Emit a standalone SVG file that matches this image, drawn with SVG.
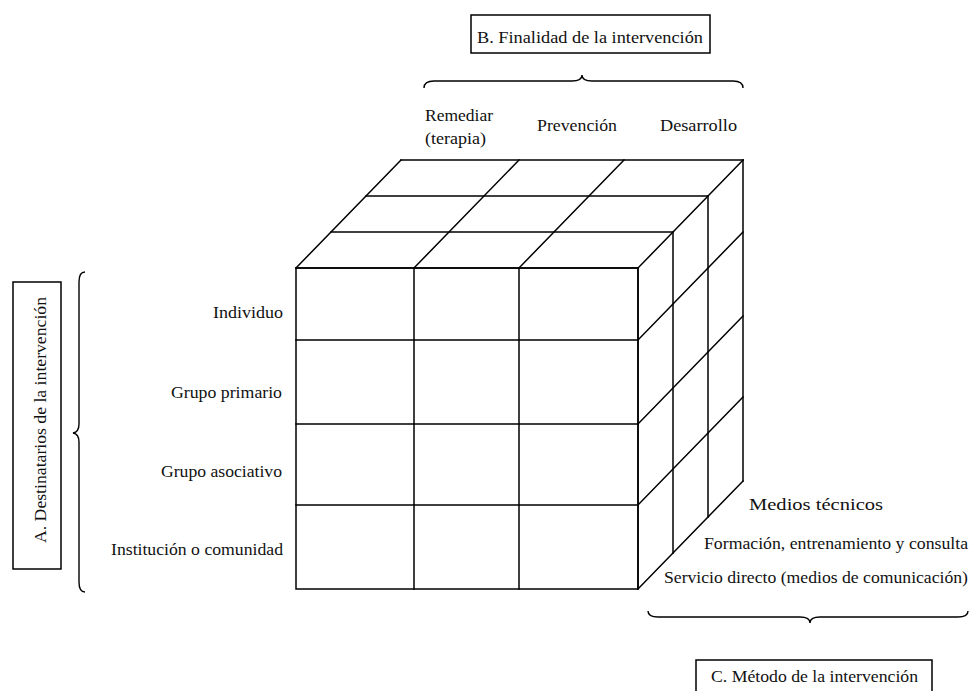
<svg xmlns="http://www.w3.org/2000/svg" width="970" height="691" viewBox="0 0 970 691">
<style>
.ln{stroke:#000;stroke-width:1.5;fill:none;stroke-linecap:square}
.br{stroke:#000;stroke-width:1.4;fill:none}
.bx{stroke:#000;stroke-width:1.5;fill:#fff}
.t{font-family:"Liberation Serif","Times New Roman",serif;font-size:16px;fill:#111}
</style>
<rect width="970" height="691" fill="#fff"/>
<g id="cube">
  <g id="top-face">
    <path class="ln" d="M296,268 H638 M331,232 H673 M366,196 H708 M401,160 H743"/>
    <path class="ln" d="M296,268 L401,160 M414,268 L519,160 M519,268 L624,160 M638,268 L743,160"/>
  </g>
  <g id="right-face">
    <path class="ln" d="M638,268 V589 M673,232 V553 M708,196 V517 M743,160 V481"/>
    <path class="ln" d="M638,340 L743,232 M638,424 L743,316 M638,505 L743,397 M638,589 L743,481"/>
  </g>
  <g id="front-face">
    <rect class="ln" x="296" y="268" width="342" height="321"/>
    <path class="ln" d="M414,268 V589 M519,268 V589 M296,340 H638 M296,424 H638 M296,505 H638"/>
  </g>
</g>
<g id="axis-B">
  <rect class="bx" x="471" y="15" width="239" height="38"/>
  <text class="t" x="477" y="43" textLength="226" lengthAdjust="spacingAndGlyphs">B. Finalidad de la intervención</text>
  <path class="br" d="M424,88 Q424,81 434,81 L572,81 Q582,81 582,75 Q582,81 592,81 L733,81 Q743,81 743,88"/>
  <text class="t" x="425" y="121" textLength="68" lengthAdjust="spacingAndGlyphs">Remediar</text>
  <text class="t" x="425" y="144" textLength="61" lengthAdjust="spacingAndGlyphs">(terapia)</text>
  <text class="t" x="537" y="131" textLength="80" lengthAdjust="spacingAndGlyphs">Prevención</text>
  <text class="t" x="660" y="131" textLength="77" lengthAdjust="spacingAndGlyphs">Desarrollo</text>
</g>
<g id="axis-A">
  <rect class="bx" x="13" y="282" width="48" height="287"/>
  <text class="t" transform="translate(46,420) rotate(-90)" x="0" y="0" text-anchor="middle" textLength="246" lengthAdjust="spacingAndGlyphs">A. Destinatarios de la intervención</text>
  <path class="br" d="M85,272 Q79,272 79,282 L79,424 Q79,432 73,433 Q79,434 79,442 L79,582 Q79,592 85,592"/>
  <text class="t" x="213" y="318" textLength="70" lengthAdjust="spacingAndGlyphs">Individuo</text>
  <text class="t" x="171" y="398" textLength="111" lengthAdjust="spacingAndGlyphs">Grupo primario</text>
  <text class="t" x="161" y="477" textLength="121" lengthAdjust="spacingAndGlyphs">Grupo asociativo</text>
  <text class="t" x="111" y="555" textLength="172" lengthAdjust="spacingAndGlyphs">Institución o comunidad</text>
</g>
<g id="axis-C">
  <text class="t" x="749" y="510" textLength="134" lengthAdjust="spacingAndGlyphs">Medios técnicos</text>
  <text class="t" x="704" y="549" textLength="264" lengthAdjust="spacingAndGlyphs">Formación, entrenamiento y consulta</text>
  <text class="t" x="664" y="583" textLength="304" lengthAdjust="spacingAndGlyphs">Servicio directo (medios de comunicación)</text>
  <path class="br" d="M648,611 Q648,617 658,617 L800,617 Q810,617 810,623 Q810,617 820,617 L958,617 Q968,617 968,611"/>
  <rect class="bx" x="696" y="660" width="236" height="40"/>
  <text class="t" x="711" y="682" textLength="207" lengthAdjust="spacingAndGlyphs">C. Método de la intervención</text>
</g>
</svg>
